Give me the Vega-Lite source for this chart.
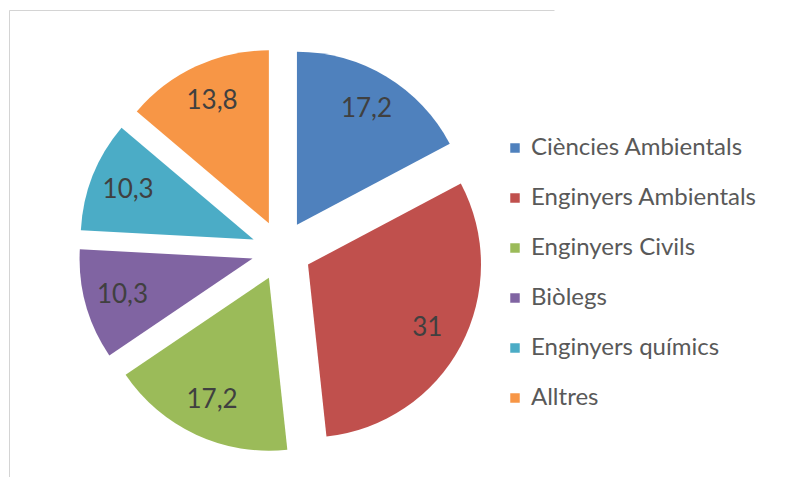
{
  "$schema": "https://vega.github.io/schema/vega-lite/v6.json",
  "autosize": "none",
  "padding": {"left": 9, "top": 10, "right": 233, "bottom": 0},
  "width": 545,
  "height": 467,
  "background": "white",
  "view": {"stroke": "#d4d4d4", "strokeWidth": 1, "strokeDash": [545, 1012, 467]},
  "config": {
    "locale": {"number": {"decimal": ",", "thousands": ".", "grouping": [3], "currency": ["", " €"]}},
    "font": "Lato"
  },
  "data": {
    "values": [
      {"grup": "Ciències Ambientals", "percent": 17.2, "ordre": 1},
      {"grup": "Enginyers Ambientals", "percent": 31, "ordre": 2},
      {"grup": "Enginyers Civils", "percent": 17.2, "ordre": 3},
      {"grup": "Biòlegs", "percent": 10.3, "ordre": 4},
      {"grup": "Enginyers químics", "percent": 10.3, "ordre": 5},
      {"grup": "Alltres", "percent": 13.8, "ordre": 6}
    ]
  },
  "encoding": {
    "theta": {"field": "percent", "type": "quantitative", "stack": true},
    "order": {"field": "ordre", "type": "quantitative"}
  },
  "layer": [
    {
      "mark": {
        "type": "arc",
        "outerRadius": 173,
        "xOffset": {"expr": "30*sin((scale('theta', datum.percent_start)+scale('theta', datum.percent_end))/2)"},
        "yOffset": {"expr": "7-30*cos((scale('theta', datum.percent_start)+scale('theta', datum.percent_end))/2)"}
      },
      "encoding": {
        "color": {
          "field": "grup",
          "type": "nominal",
          "scale": {
            "domain": ["Ciències Ambientals", "Enginyers Ambientals", "Enginyers Civils", "Biòlegs", "Enginyers químics", "Alltres"],
            "range": ["#4F81BD", "#C0504D", "#9BBB59", "#8064A2", "#4BACC6", "#F79646"]
          },
          "legend": {
            "title": null,
            "orient": "none",
            "legendX": 494,
            "legendY": 126,
            "padding": 0,
            "symbolType": "square",
            "symbolSize": 90,
            "symbolStrokeWidth": 0,
            "labelFont": "Lato",
            "labelFontSize": 24,
            "labelColor": "#595959",
            "labelOffset": 4,
            "rowPadding": 26,
            "labelLimit": 400
          }
        }
      }
    },
    {
      "mark": {"type": "text", "radius": 165, "yOffset": 7, "fontSize": 26, "font": "Lato"},
      "encoding": {
        "text": {"field": "percent", "type": "quantitative", "format": ".3~r"},
        "detail": {"field": "grup", "type": "nominal"},
        "color": {"value": "#404040"}
      }
    }
  ]
}
